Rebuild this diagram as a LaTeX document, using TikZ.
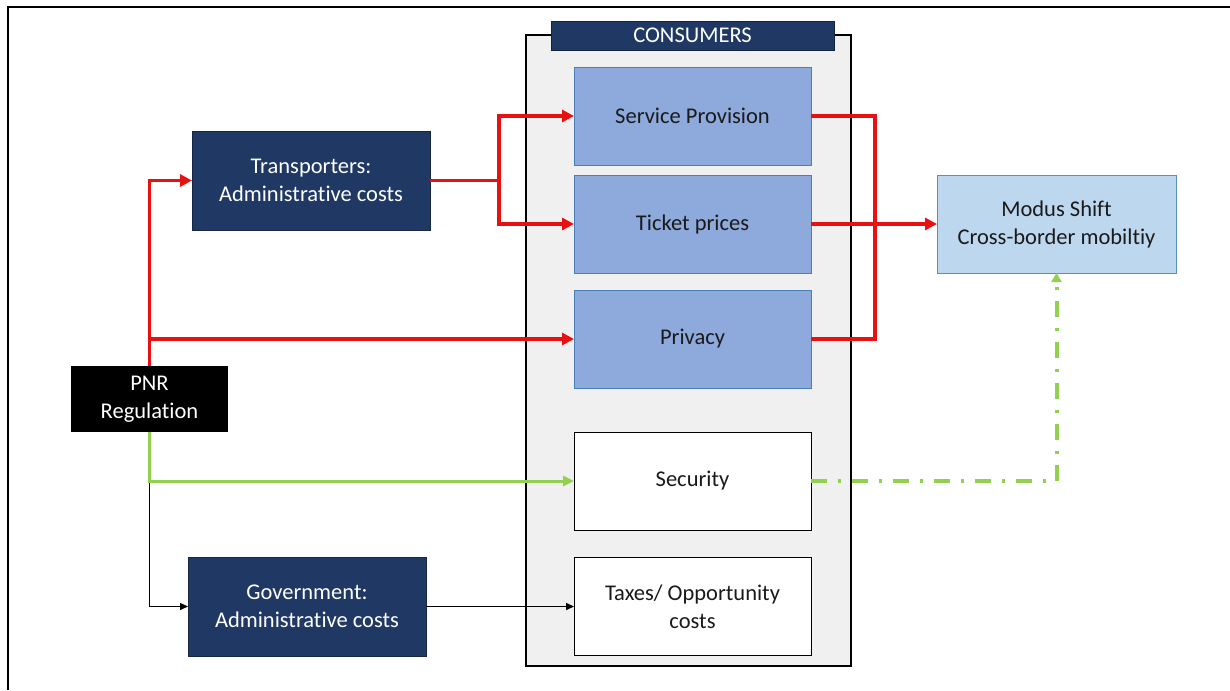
\documentclass[tikz,border=0pt]{standalone}
\usepackage{fontspec}
\setmainfont{Carlito}[Ligatures=NoCommon]
\usetikzlibrary{arrows.meta}
\definecolor{navy}{HTML}{1F3864}
\definecolor{midblue}{HTML}{8EA9DB}
\definecolor{midblueedge}{HTML}{4A7EBB}
\definecolor{paleblue}{HTML}{BDD7EE}
\definecolor{paleedge}{HTML}{5B8DBE}
\definecolor{boxgray}{HTML}{F0F0F0}
\definecolor{redline}{HTML}{E81010}
\definecolor{greenline}{HTML}{92D050}
\definecolor{txt}{HTML}{1A1A1A}
\tikzset{
  base/.style={rectangle, inner sep=0pt, outer sep=0pt, align=center},
  navybox/.style={base, fill=navy, draw=navy!70!black, line width=0.8pt, text=white, minimum width=238pt, minimum height=99pt},
  conbox/.style={base, fill=midblue, draw=midblueedge, line width=0.8pt, text=txt, minimum width=237pt, minimum height=98pt},
  whitebox/.style={base, fill=white, draw=black, line width=0.9pt, text=txt, minimum width=237pt, minimum height=98pt},
  redarrow/.style={draw=redline, line width=3.5pt, -{Triangle[length=12pt,width=12pt]}},
  redline/.style={draw=redline, line width=3.5pt},
  greenarrow/.style={draw=greenline, line width=3pt, -{Triangle[length=11pt,width=10pt]}},
  blackarrow/.style={draw=black, line width=1.5pt, -{Triangle[length=8pt,width=7pt]}},
  dashdotarrow/.style={draw=greenline, line width=4pt, dash pattern=on 16pt off 11pt on 3pt off 11pt, -{Triangle[length=9pt,width=10pt]}},
}
\begin{document}
\begin{tikzpicture}[x=1pt,y=-1pt, font=\fontsize{22.5}{28}\selectfont]
\useasboundingbox (0,0) rectangle (1230,690);
% outer frame (top and left only)
\draw[line width=2.5pt] (8,690) -- (8,7) -- (1230,7);

% consumers container
\node[base, fill=boxgray, draw=black, line width=1.4pt, minimum width=325pt, minimum height=631pt] (cons) at (688.5,350.5) {};
\node[base, fill=navy, draw=navy!60!black, line width=0.8pt, text=white, minimum width=283pt, minimum height=29pt, font=\fontsize{22.5}{24}\selectfont] (head) at (692.5,35.5) {CONSUMERS};

\node[conbox] (svc) at (692.5,116) {Service Provision};
\node[conbox] (tick) at (692.5,224) {Ticket prices};
\node[conbox] (priv) at (692.5,339) {Privacy};
\node[whitebox] (sec) at (692.5,481) {Security};
\node[whitebox] (tax) at (692.5,606.5) {Taxes/ Opportunity\\costs};

\node[navybox] (trans) at (311,180.5) {Transporters:\\Administrative costs};
\node[navybox] (gov) at (307,606.5) {Government:\\Administrative costs};
\node[base, fill=black, text=white, minimum width=157pt, minimum height=66pt] (pnr) at (149.5,399) {PNR\\Regulation};
\node[base, fill=paleblue, draw=paleedge, line width=0.9pt, text=txt, minimum width=239pt, minimum height=98pt] (modus) at (1056.5,224) {Modus Shift\\Cross-border mobiltiy};

\coordinate (tj) at (499,180.5);
\coordinate (rj) at (875,116);

% red connectors
\draw[redarrow] (pnr.north) |- (trans.west);
\draw[redarrow] (pnr.north |- priv.west) -- (priv.west);
\draw[redline] (trans.east) -- (tj);
\draw[redarrow] (tj) |- (svc.west);
\draw[redarrow] (tj) |- (tick.west);
\draw[redline] (svc.east) -- (svc.east -| rj) -- (priv.east -| rj) -- (priv.east);
\draw[redarrow] (tick.east) -- (modus.west);

% green connectors
\draw[blackarrow] (pnr.south |- sec.west) |- (gov.west);
\draw[greenarrow] (pnr.south) |- (sec.west);
\draw[dashdotarrow] (sec.east) -| (modus.south);

% black connectors
\draw[blackarrow] (gov.east) -- (tax.west);
\end{tikzpicture}
\end{document}
